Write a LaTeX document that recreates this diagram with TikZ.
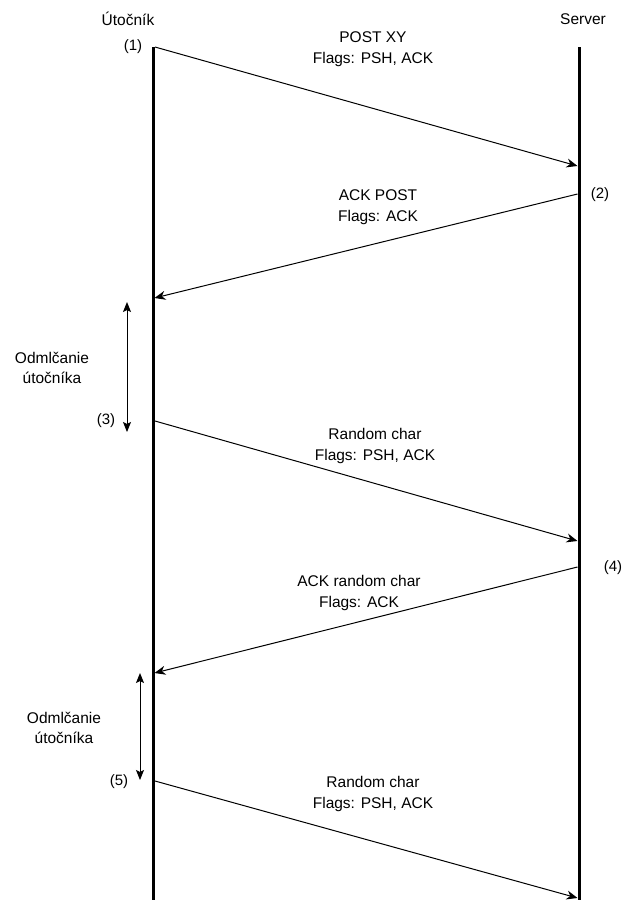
\documentclass[tikz,border=0pt]{standalone}
\usepackage{fontspec}
\setmainfont{Liberation Sans}
\usetikzlibrary{arrows.meta}
\tikzset{
  lifeline/.style={line width=3pt},
  msg/.style={line width=1pt,-{Stealth[length=11pt,width=9pt,inset=3.5pt]}},
  gap/.style={line width=1pt,{Stealth[length=10pt,width=8pt,inset=2pt]}-{Stealth[length=10pt,width=8pt,inset=2pt]}},
  lbl/.style={align=center,inner sep=0pt,font=\fontsize{15.5}{20.5}\selectfont,text=black},
  num/.style={inner sep=0pt,font=\fontsize{15}{18}\selectfont,text=black}
}
\begin{document}
\begin{tikzpicture}[x=1pt,y=-1pt]
\useasboundingbox (0,0) rectangle (623,900);
% lifelines
\coordinate (LT) at (153,47);
\coordinate (LB) at (153,900);
\coordinate (RT) at (579,47);
\coordinate (RB) at (579,900);
\draw[lifeline] (LT) -- (LB);
\draw[lifeline] (RT) -- (RB);
% headers
\node[lbl] (hatt) at (128,19) {Útočník};
\node[lbl] (hsrv) at (583,19) {Server};
% message endpoints
\coordinate (a1) at (155,47);   \coordinate (b1) at (577.5,166);
\coordinate (a2) at (577.5,194); \coordinate (b2) at (154.5,298);
\coordinate (a3) at (155,421);  \coordinate (b3) at (577.5,541);
\coordinate (a4) at (577.5,567); \coordinate (b4) at (154.5,673);
\coordinate (a5) at (155,781);  \coordinate (b5) at (577.5,898);
\draw[msg] (a1) -- (b1);
\draw[msg] (a2) -- (b2);
\draw[msg] (a3) -- (b3);
\draw[msg] (a4) -- (b4);
\draw[msg] (a5) -- (b5);
% message labels
\node[lbl] (m1) at (373,49) {POST XY\\Flags: PSH, ACK};
\node[lbl] (m2) at (378,207) {ACK POST\\Flags: ACK};
\node[lbl] (m3) at (375,446) {Random char\\Flags: PSH, ACK};
\node[lbl] (m4) at (359,593) {ACK random char\\Flags: ACK};
\node[lbl] (m5) at (373,794) {Random char\\Flags: PSH, ACK};
% step numbers
\node[num] (n1) at (133,47) {(1)};
\node[num] (n2) at (600,195) {(2)};
\node[num] (n3) at (106,421) {(3)};
\node[num] (n4) at (613,568) {(4)};
\node[num] (n5) at (119,782) {(5)};
% silence intervals
\coordinate (s1t) at (127,302); \coordinate (s1b) at (127,432);
\coordinate (s2t) at (140,673); \coordinate (s2b) at (140,780);
\draw[gap] (s1t) -- (s1b);
\draw[gap] (s2t) -- (s2b);
\node[lbl] (o1) at (52,368) {Odmlčanie\\útočníka};
\node[lbl] (o2) at (64,728) {Odmlčanie\\útočníka};
\end{tikzpicture}
\end{document}
